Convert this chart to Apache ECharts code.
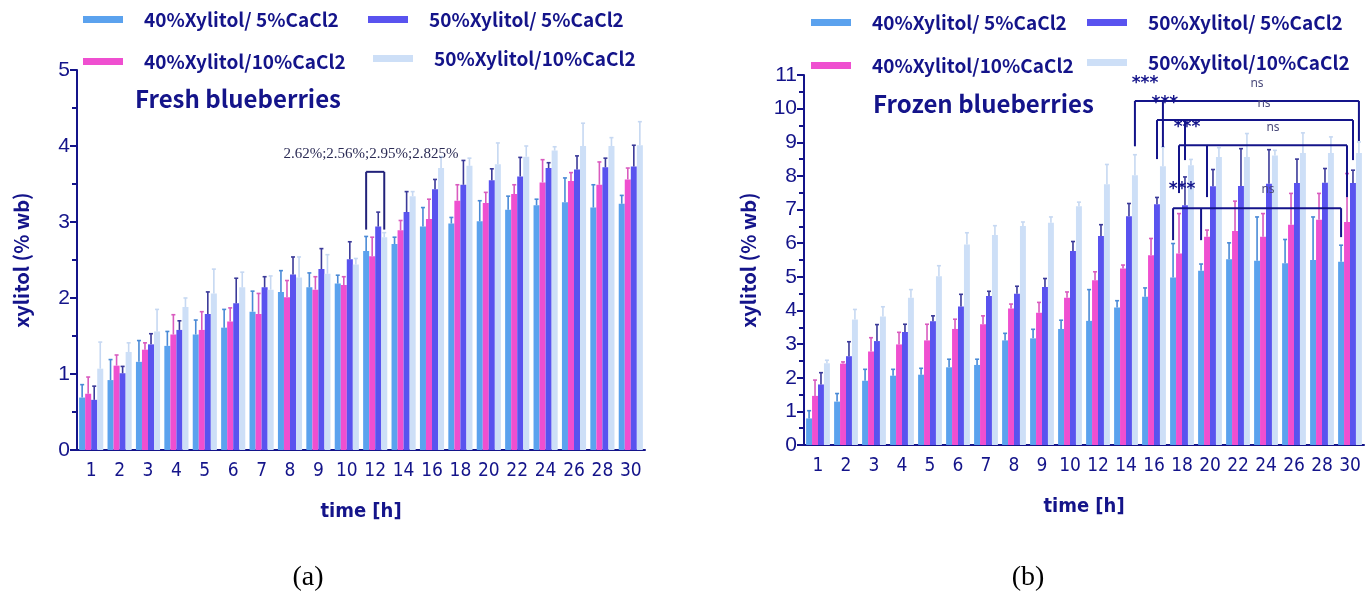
<!DOCTYPE html>
<html>
<head>
<meta charset="utf-8">
<script src="https://cdn.jsdelivr.net/npm/echarts@6/dist/echarts.min.js"></script>
<style>
  html, body { margin: 0; padding: 0; background: #fff; }
  #chart { width: 1372px; height: 600px; }
</style>
</head>
<body>
<div id="chart"></div>
<script>
// time points (h)
const times = ['1', '2', '3', '4', '5', '6', '7', '8', '9', '10', '12', '14', '16', '18', '20', '22', '24', '26', '28', '30'];
const seriesNames = ['40%Xylitol/ 5%CaCl2', '40%Xylitol/10%CaCl2', '50%Xylitol/ 5%CaCl2', '50%Xylitol/10%CaCl2'];

// (a) fresh blueberries, xylitol % wb, mean and sd
const fresh40x5 = [0.69, 0.92, 1.16, 1.37, 1.52, 1.61, 1.82, 2.08, 2.14, 2.19, 2.62, 2.71, 2.94, 2.98, 3.01, 3.16, 3.22, 3.26, 3.19, 3.24];
const fresh40x5Sd = [0.17, 0.27, 0.28, 0.19, 0.19, 0.24, 0.27, 0.28, 0.19, 0.11, 0.19, 0.09, 0.25, 0.08, 0.27, 0.18, 0.08, 0.32, 0.30, 0.11];
const fresh40x10 = [0.74, 1.11, 1.32, 1.52, 1.58, 1.69, 1.79, 2.01, 2.11, 2.17, 2.55, 2.89, 3.04, 3.28, 3.25, 3.37, 3.52, 3.54, 3.49, 3.56];
const fresh40x10Sd = [0.22, 0.14, 0.09, 0.26, 0.24, 0.18, 0.27, 0.22, 0.17, 0.11, 0.25, 0.13, 0.26, 0.21, 0.14, 0.12, 0.30, 0.11, 0.30, 0.15];
const fresh50x5 = [0.66, 1.01, 1.39, 1.58, 1.79, 1.93, 2.14, 2.31, 2.38, 2.51, 2.94, 3.13, 3.43, 3.49, 3.55, 3.60, 3.71, 3.69, 3.72, 3.73];
const fresh50x5Sd = [0.18, 0.09, 0.14, 0.12, 0.29, 0.33, 0.14, 0.23, 0.27, 0.23, 0.19, 0.27, 0.13, 0.32, 0.15, 0.25, 0.07, 0.18, 0.12, 0.28];
const fresh50x10 = [1.07, 1.29, 1.56, 1.88, 2.06, 2.14, 2.11, 2.27, 2.32, 2.44, 2.80, 3.34, 3.71, 3.74, 3.76, 3.86, 3.94, 4.00, 4.00, 4.01];
const fresh50x10Sd = [0.35, 0.12, 0.29, 0.12, 0.32, 0.20, 0.18, 0.27, 0.25, 0.08, 0.06, 0.06, 0.15, 0.10, 0.28, 0.14, 0.05, 0.30, 0.11, 0.31];

// (b) frozen blueberries
const frozen40x5 = [0.79, 1.29, 1.91, 2.06, 2.09, 2.31, 2.38, 3.11, 3.17, 3.45, 3.69, 4.09, 4.41, 4.98, 5.18, 5.52, 5.48, 5.40, 5.50, 5.45];
const frozen40x5Sd = [0.23, 0.24, 0.34, 0.19, 0.19, 0.24, 0.17, 0.21, 0.27, 0.26, 0.93, 0.20, 0.26, 1.01, 0.20, 0.49, 1.30, 0.71, 1.28, 0.49];
const frozen40x10 = [1.46, 2.42, 2.78, 2.99, 3.11, 3.45, 3.59, 4.06, 3.93, 4.38, 4.90, 5.25, 5.64, 5.69, 6.19, 6.36, 6.19, 6.55, 6.70, 6.63];
const frozen40x10Sd = [0.47, 0.05, 0.41, 0.36, 0.48, 0.29, 0.25, 0.13, 0.31, 0.17, 0.25, 0.10, 0.50, 1.19, 0.20, 0.89, 0.69, 0.93, 0.78, 1.44];
const frozen50x5 = [1.80, 2.64, 3.09, 3.36, 3.68, 4.12, 4.43, 4.50, 4.70, 5.77, 6.21, 6.80, 7.16, 7.13, 7.69, 7.70, 7.77, 7.79, 7.80, 7.79];
const frozen50x5Sd = [0.35, 0.43, 0.49, 0.23, 0.16, 0.36, 0.14, 0.22, 0.25, 0.28, 0.34, 0.38, 0.20, 0.84, 0.50, 1.11, 1.01, 0.71, 0.42, 0.38];
const frozen50x10 = [2.43, 3.73, 3.82, 4.38, 5.02, 5.96, 6.24, 6.51, 6.61, 7.10, 7.75, 8.02, 8.29, 8.32, 8.56, 8.56, 8.61, 8.68, 8.68, 8.68];
const frozen50x10Sd = [0.09, 0.30, 0.29, 0.24, 0.31, 0.35, 0.28, 0.12, 0.17, 0.12, 0.59, 0.61, 0.57, 0.17, 0.28, 0.70, 0.15, 0.60, 0.48, 0.33];

const barColors = ['#5ba2ee', '#ef4fd0', '#5953ef', '#cddff7'];
const errColors = ['#4a8ad6', '#d95bbf', '#3b3a99', '#c6d8f2'];
const navy = '#14148a';
const narrow = '"Liberation Sans Narrow", "DejaVu Sans Condensed", sans-serif';
const kfont = '"Noto Sans CJK KR", "Noto Sans", sans-serif';

const GAP = 0.15; // barCategoryGap

function errRender(barIdx) {
  return function (params, api) {
    const base = api.coord([api.value(0), api.value(1)]);
    const top = api.coord([api.value(0), api.value(2)]);
    const band = api.size([1, 0])[0];
    const bw = band * (1 - GAP) / 4;
    const x = base[0] - band * (1 - GAP) / 2 + bw * (barIdx + 0.5);
    const st = { stroke: errColors[barIdx], lineWidth: 1.6 };
    return {
      type: 'group',
      children: [
        { type: 'line', shape: { x1: x, y1: base[1], x2: x, y2: top[1] }, style: st },
        { type: 'line', shape: { x1: x - 2, y1: top[1], x2: x + 2, y2: top[1] }, style: st }
      ]
    };
  };
}

function makeSeries(g, means, sds) {
  const out = [];
  means.forEach((m, k) => {
    out.push({
      name: seriesNames[k], type: 'bar', xAxisIndex: g, yAxisIndex: g,
      data: m, barGap: '0%', barCategoryGap: (GAP * 100) + '%',
      itemStyle: { color: barColors[k] }
    });
  });
  means.forEach((m, k) => {
    out.push({
      type: 'custom', xAxisIndex: g, yAxisIndex: g, z: 5, silent: true,
      renderItem: errRender(k),
      data: m.map((v, i) => [i, v, v + sds[k][i]])
    });
  });
  return out;
}

function legendAt(name, left, top) {
  return {
    data: [name], left: left, top: top, itemWidth: 40, itemHeight: 7, icon: 'rect',
    selectedMode: false,
    textStyle: { color: navy, fontSize: 19, fontWeight: 'bold', fontFamily: kfont, padding: [0, 0, 0, 16] }
  };
}

function xAxisFor(g) {
  return {
    type: 'category', gridIndex: g, data: times,
    axisLine: { lineStyle: { color: navy, width: 2 } },
    axisTick: { alignWithLabel: true, length: 9, lineStyle: { color: navy, width: 2 } },
    axisLabel: { interval: 0, color: navy, fontSize: 19, fontFamily: narrow, margin: 12 },
    name: 'time [h]', nameLocation: 'middle', nameGap: 52,
    nameTextStyle: { color: navy, fontSize: 20, fontWeight: 'bold', fontFamily: narrow }
  };
}

function yAxisFor(g, max) {
  return {
    type: 'value', gridIndex: g, min: 0, max: max, interval: 1,
    splitLine: { show: false },
    axisLine: { show: true, lineStyle: { color: navy, width: 2 } },
    axisTick: { show: true, length: 7, lineStyle: { color: navy, width: 2 } },
    minorTick: { show: true, splitNumber: 2, length: 5, lineStyle: { color: navy, width: 2 } },
    axisLabel: { color: navy, fontSize: 21, fontFamily: '"Liberation Sans", sans-serif', margin: 7 },
    name: 'xylitol (% wb)', nameLocation: 'middle', nameGap: 46,
    nameTextStyle: { color: navy, fontSize: 20, fontWeight: 'bold', fontFamily: kfont }
  };
}

const chart = echarts.init(document.getElementById('chart'));

const option = {
  backgroundColor: '#fff',
  animation: false,
  title: [
    { text: 'Fresh blueberries', left: 130, top: 82, textStyle: { color: navy, fontSize: 24, fontWeight: 'bold', fontFamily: kfont } },
    { text: 'Frozen blueberries', left: 868, top: 87, textStyle: { color: navy, fontSize: 24, fontWeight: 'bold', fontFamily: kfont } }
  ],
  legend: [
    legendAt(seriesNames[0], 78, 5), legendAt(seriesNames[2], 363, 5),
    legendAt(seriesNames[1], 78, 47), legendAt(seriesNames[3], 368, 44),
    legendAt(seriesNames[0], 806, 8), legendAt(seriesNames[2], 1082, 8),
    legendAt(seriesNames[1], 806, 51), legendAt(seriesNames[3], 1082, 48)
  ],
  grid: [
    { left: 77, top: 70, width: 568, height: 380 },
    { left: 804, top: 75, width: 560, height: 370 }
  ],
  xAxis: [xAxisFor(0), xAxisFor(1)],
  yAxis: [yAxisFor(0, 5), yAxisFor(1, 11)],
  series: [
    ...makeSeries(0, [fresh40x5, fresh40x10, fresh50x5, fresh50x10], [fresh40x5Sd, fresh40x10Sd, fresh50x5Sd, fresh50x10Sd]),
    ...makeSeries(1, [frozen40x5, frozen40x10, frozen50x5, frozen50x10], [frozen40x5Sd, frozen40x10Sd, frozen50x5Sd, frozen50x10Sd])
  ]
};
chart.setOption(option);

// significance brackets: legs are [category index, bar index, bottom value]
const brackets = [
  { g: 0, top: 3.66, legs: [[10, 0, 2.9], [10, 3, 2.9]], color: '#22227a' },
  { g: 1, top: 10.23, legs: [[11, 3, 8.88], [12, 3, 8.86], [19, 3, 9.04]], color: navy },
  { g: 1, top: 9.66, legs: [[12, 2, 8.50], [13, 2, 8.47], [19, 2, 8.47]], color: navy },
  { g: 1, top: 8.91, legs: [[13, 1, 7.49], [14, 1, 7.37], [19, 1, 7.37]], color: navy },
  { g: 1, top: 7.04, legs: [[13, 0, 6.09], [14, 0, 6.09], [19, 0, 6.18]], color: navy }
];
// labels: [grid, fractional category index, value, text, kind]
const marks = [
  [0, 9.85, 3.9, '2.62%;2.56%;2.95%;2.825%', 'note'],
  [1, 11.68, 10.75, '***', 'star'], [1, 15.68, 10.75, 'ns', 'ns'],
  [1, 12.39, 10.16, '***', 'star'], [1, 15.93, 10.16, 'ns', 'ns'],
  [1, 13.18, 9.45, '***', 'star'], [1, 16.25, 9.45, 'ns', 'ns'],
  [1, 13.0, 7.58, '***', 'star'], [1, 16.07, 7.58, 'ns', 'ns']
];

function px(g, idx, v) {
  const p0 = chart.convertToPixel({ gridIndex: g }, [0, v]);
  const p1 = chart.convertToPixel({ gridIndex: g }, [1, v]);
  return [p0[0] + (p1[0] - p0[0]) * idx, p0[1], p1[0] - p0[0]];
}
function barX(g, idx, bar) {
  const p = px(g, idx, 0);
  const band = p[2];
  return p[0] - band * (1 - GAP) / 2 + band * (1 - GAP) / 4 * (bar + 0.5);
}

const graphics = [];
brackets.forEach(b => {
  const yTop = px(b.g, 0, b.top)[1];
  const xs = b.legs.map(l => barX(b.g, l[0], l[1]));
  graphics.push({ type: 'line', shape: { x1: Math.min(...xs), y1: yTop, x2: Math.max(...xs), y2: yTop }, style: { stroke: b.color, lineWidth: 2 }, z: 20 });
  b.legs.forEach((l, i) => {
    const yb = px(b.g, 0, l[2])[1];
    graphics.push({ type: 'line', shape: { x1: xs[i], y1: yTop, x2: xs[i], y2: yb }, style: { stroke: b.color, lineWidth: 2 }, z: 20 });
  });
});
marks.forEach(m => {
  const p = px(m[0], m[1], m[2]);
  let font, fill;
  if (m[4] === 'note') { font = '15px "Liberation Serif", serif'; fill = '#2b2b55'; }
  else if (m[4] === 'star') { font = 'bold 17px "DejaVu Sans", sans-serif'; fill = navy; }
  else { font = '12px "Noto Sans", sans-serif'; fill = '#4a4a7a'; }
  graphics.push({ type: 'text', x: p[0], y: p[1], z: 21, style: { text: m[3], font: font, fill: fill, align: 'center', verticalAlign: 'middle' } });
});
graphics.push({ type: 'text', x: 308, y: 578, style: { text: '(a)', font: '28px "Liberation Serif", serif', fill: '#000', align: 'center', verticalAlign: 'middle' } });
graphics.push({ type: 'text', x: 1028, y: 578, style: { text: '(b)', font: '28px "Liberation Serif", serif', fill: '#000', align: 'center', verticalAlign: 'middle' } });

chart.setOption({ graphic: graphics });
</script>
</body>
</html>
